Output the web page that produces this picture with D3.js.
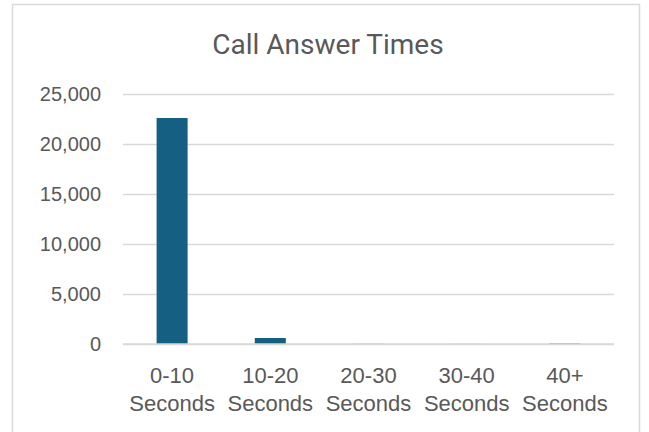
<!DOCTYPE html>
<html><head><meta charset="utf-8">
<script src="https://cdn.jsdelivr.net/npm/d3@7"></script>
<style>body{margin:0;background:#fff}svg{display:block}</style>
</head><body>
<script>
const categories = [["0-10","Seconds"],["10-20","Seconds"],["20-30","Seconds"],["30-40","Seconds"],["40+","Seconds"]];
const values = [22600, 600, 20, 10, 60];
const yTicks = [0, 5000, 10000, 15000, 20000, 25000];
const title = "Call Answer Times";

const W = 649, H = 432;
const m = {left:123, right:35, top:94, bottom:88};
const svg = d3.select("body").append("svg").attr("width", W).attr("height", H);
svg.append("rect").attr("x",12.5).attr("y",4.5).attr("width",627).attr("height",440)
  .attr("fill","#fff").attr("stroke","#d9d9d9").attr("stroke-width",1.5);

const x = d3.scaleBand().domain(categories.map(c=>c.join(" "))).range([m.left, W-m.right]).paddingInner(0.684).paddingOuter(0.342);
const y = d3.scaleLinear().domain([0,25000]).range([H-m.bottom, m.top]);

svg.append("text").attr("x",328).attr("y",54).attr("text-anchor","middle")
  .attr("font-family","Roboto, 'Liberation Sans', sans-serif").attr("font-size",28).attr("fill","#595959").text(title);

const yAxis = svg.append("g").attr("transform",`translate(${m.left},0)`)
  .call(d3.axisLeft(y).tickValues(yTicks).tickSize(-(W-m.left-m.right)).tickPadding(22).tickFormat(d3.format(",")));
yAxis.select(".domain").remove();
yAxis.selectAll("line").attr("stroke","#d9d9d9").attr("stroke-width",1.5);
yAxis.selectAll("text").attr("font-family","'Liberation Sans', Arial, sans-serif").attr("font-size",20).attr("fill","#595959");

svg.append("g").selectAll("rect").data(values).join("rect")
  .attr("x",(d,i)=>x(categories[i].join(" ")))
  .attr("width",x.bandwidth())
  .attr("y",d=>y(d)).attr("height",d=>y(0)-y(d))
  .attr("fill","#156082");

svg.append("line").attr("x1",m.left).attr("x2",W-m.right).attr("y1",y(0)).attr("y2",y(0))
  .attr("stroke","#d9d9d9").attr("stroke-width",1.5);

const xl = svg.append("g");
categories.forEach((c,i)=>{
  const cx = x(c.join(" ")) + x.bandwidth()/2;
  const t = xl.append("text").attr("x",cx).attr("y",383).attr("text-anchor","middle")
    .attr("font-family","'Liberation Sans', Arial, sans-serif").attr("font-size",22).attr("fill","#595959");
  t.append("tspan").attr("x",cx).text(c[0]);
  t.append("tspan").attr("x",cx).attr("dy",28).text(c[1]);
});
</script>
</body></html>
